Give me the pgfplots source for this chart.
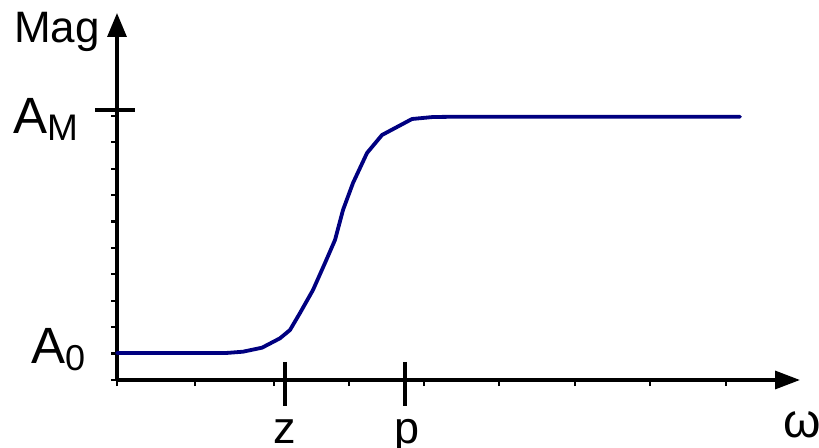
\documentclass[border=0pt]{standalone}
\usepackage{pgfplots}
\pgfplotsset{compat=1.18}
\usepackage{fontspec}
\setmainfont{Liberation Sans}
\usetikzlibrary{arrows.meta}
\definecolor{curve}{RGB}{0,0,128}
\begin{document}
\begin{tikzpicture}
\useasboundingbox (0,0) rectangle (819bp,448bp);
\begin{axis}[
  at={(117bp,68bp)}, anchor=south west,
  x=1bp, y=1bp,
  xmin=117, xmax=800, ymin=68, ymax=435,
  axis lines=left,
  axis line style={line width=3.3bp},
  every outer x axis line/.append style={-{Triangle[length=25bp,width=18bp]}},
  every outer y axis line/.append style={-{Triangle[length=24bp,width=19bp]}},
  xtick={117,195,274,349,424,499,575,650,726},
  ytick={68,94.4,120.8,147.2,173.6,200,226.4,252.8,279.2,305.6,332},
  xticklabels={}, yticklabels={},
  tick align=outside,
  major tick length=6bp,
  tick style={line width=2.2bp, black},
  clip=false,
]
\addplot[color=curve, line width=3.8bp, line join=round, line cap=round] coordinates {
(117,95) (226,95) (243,96.3) (262,100.3) (280,109.7) (290,118) (300,135)
(313,158) (325,185) (335,208) (343,238) (353,265) (367,295) (382,313)
(397,321) (412,329) (433,331) (460,331.3) (740,331.3)
};
\draw[line width=3.3bp] (axis cs:285,86) -- (axis cs:285,42);
\draw[line width=3.3bp] (axis cs:405,86) -- (axis cs:405,42);
\draw[line width=3.3bp] (axis cs:95,338) -- (axis cs:135,338);
\node[anchor=base west, inner sep=0, font=\fontsize{44bp}{52bp}\selectfont] at (axis cs:14,406) {Mag};
\node[anchor=base west, inner sep=0] at (axis cs:13,315) {\fontsize{51bp}{60bp}\selectfont A\raisebox{-7bp}{\fontsize{37bp}{44bp}\selectfont M}};
\node[anchor=base west, inner sep=0] at (axis cs:31,85) {\fontsize{51bp}{60bp}\selectfont A\raisebox{-7bp}{\fontsize{36bp}{44bp}\selectfont 0}};
\node[anchor=base, inner sep=0, font=\fontsize{45bp}{52bp}\selectfont] at (axis cs:285,5) {z};
\node[anchor=base, inner sep=0, font=\fontsize{45bp}{52bp}\selectfont] at (axis cs:407,5) {p};
\node[anchor=base west, inner sep=0, font=\fontsize{48bp}{56bp}\selectfont] at (axis cs:783,11) {ω};
\end{axis}
\end{tikzpicture}
\end{document}
